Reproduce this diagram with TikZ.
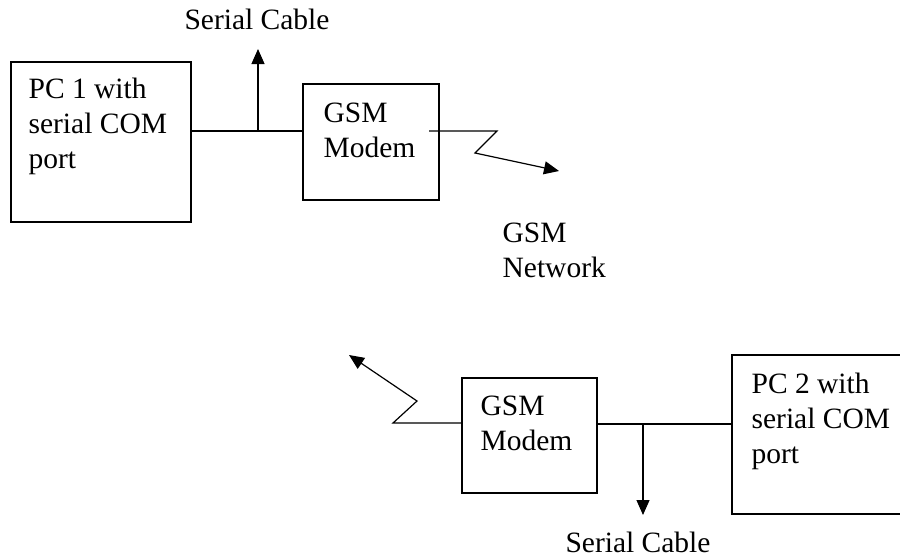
\documentclass[tikz,border=0pt]{standalone}
\usepackage{fontspec}
\setmainfont{Liberation Serif}
\usetikzlibrary{arrows.meta}
\newcommand{\lines}[1]{\vtop{\baselineskip=35pt\lineskiplimit=-100pt #1}}
\begin{document}
\begin{tikzpicture}[x=1pt,y=-1pt,
  line width=1.2pt,
  box/.style={draw, line width=1.2pt, inner sep=0, minimum width=0pt},
  txt/.style={anchor=base west, inner sep=0, font=\fontsize{29.5}{35}\selectfont},
  ctxt/.style={anchor=base, inner sep=0, font=\fontsize{29.5}{35}\selectfont},
  arr/.style={-{Triangle[length=15pt,width=13pt]}},
  wire/.style={line width=1.2pt}]
\useasboundingbox (0,0) rectangle (900,557);
% boxes
\node[box, minimum width=180pt, minimum height=160pt] (pc1) at (101,142) {};
\node[box, minimum width=136pt, minimum height=116pt] (m1) at (371,142) {};
\node[box, minimum width=135pt, minimum height=115pt] (m2) at (529.5,435.5) {};
% PC2 box, open to the right
\coordinate (pc2tr) at (900,355);
\coordinate (pc2tl) at (732,355);
\coordinate (pc2bl) at (732,514);
\coordinate (pc2br) at (900,514);
\draw[wire] (pc2tr) -- (pc2tl) -- (pc2bl) -- (pc2br);
% texts
\node[txt] (t1) at (28,98) {\lines{\hbox{PC 1 with}\hbox{serial COM}\hbox{port}}};
\node[txt] (t2) at (323,122) {\lines{\hbox{GSM}\hbox{Modem}}};
\node[txt] (t3) at (502,242) {\lines{\hbox{GSM}\hbox{Network}}};
\node[txt] (t4) at (480,415) {\lines{\hbox{GSM}\hbox{Modem}}};
\node[txt] (t5) at (751,393) {\lines{\hbox{PC 2 with}\hbox{serial COM}\hbox{port}}};
\node[ctxt] (sc1) at (257,29) {Serial Cable};
\node[ctxt] (sc2) at (638,552) {Serial Cable};
% top serial cable
\coordinate (j1) at (258,131);
\coordinate (a1) at (258,49);
\draw[wire] (pc1.east |- j1) -- (m1.west |- j1);
\draw[arr] (j1) -- (a1);
% top radio link
\coordinate (z1a) at (429,131);
\coordinate (z1b) at (497,131);
\coordinate (z1c) at (475,153);
\coordinate (z1d) at (559,171);
\draw[wire,arr,line join=miter] (z1a) -- (z1b) -- (z1c) -- (z1d);
% bottom radio link
\coordinate (z2a) at (393,423);
\coordinate (z2b) at (417,401);
\coordinate (z2c) at (349,355);
\draw[wire,arr,line join=miter] (m2.west |- z2a) -- (z2a) -- (z2b) -- (z2c);
% bottom serial cable
\coordinate (j2) at (643,424);
\coordinate (a2) at (643,515);
\draw[wire] (m2.east |- j2) -- (pc2tl |- j2);
\draw[arr] (j2) -- (a2);
\end{tikzpicture}
\end{document}
